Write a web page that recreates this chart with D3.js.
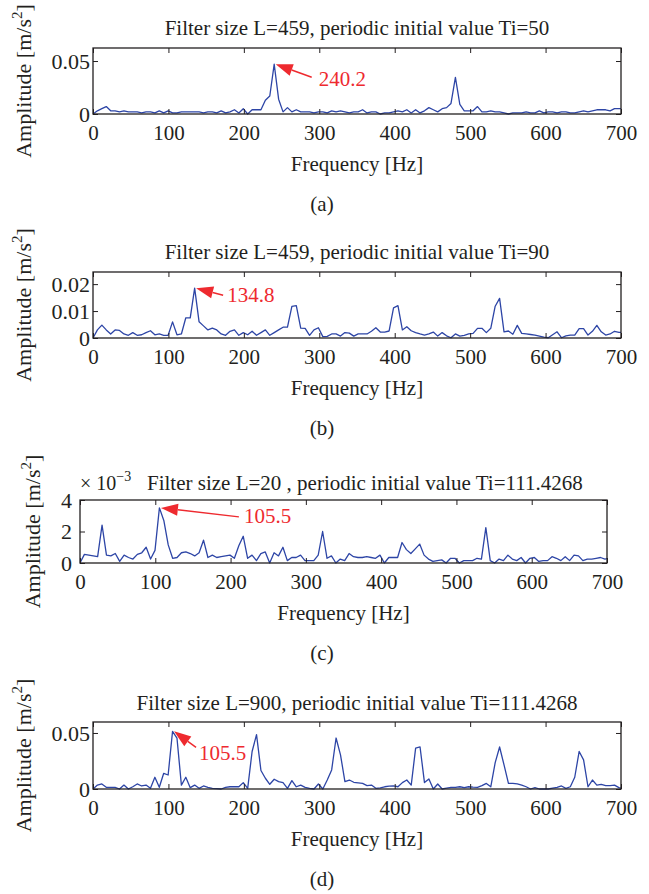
<!DOCTYPE html>
<html><head><meta charset="utf-8">
<script src="https://cdn.jsdelivr.net/npm/d3@7"></script>
<style>
html,body{margin:0;padding:0;background:#fff;}
svg{display:block;font-family:"Liberation Serif","Times New Roman",serif;}
</style></head>
<body><svg id="chart" width="649" height="894"></svg>
<script>
// Frequency grid: FFT bin spacing (12 kHz / 2048 points)
const binWidthHz = 12000 / 2048;

// (a) L=459, Ti=50  — amplitude in m/s^2, one value per bin
const ampA = [0,0.003,0.005,0.007,0.003,0.003,0.002,0.003,0.002,0.002,
  0.002,0.001,0.002,0.002,0.001,0.003,0.001,0.003,0.001,0.001,
  0.002,0.002,0.002,0.002,0.002,0.001,0.002,0.002,0.001,0.003,
  0.001,0.002,0.004,0.001,0.005,0.000,0.004,0.004,0.004,0.013,
  0.017,0.047,0.014,0.002,0.006,0.002,0.004,0.002,0.002,0.002,
  0.001,0.002,0.002,0.001,0.003,0.002,0.003,0.002,0.001,0.002,
  0.002,0.004,0.001,0.002,0.002,0.000,0.001,0.001,0.002,0.003,
  0.002,0.004,0.001,0.004,0.001,0.003,0.006,0.004,0.002,0.005,
  0.006,0.010,0.0345,0.009,0.003,0.003,0.003,0.007,0.002,0.002,
  0.003,0.002,0.002,0.001,0.000,0.001,0.001,0.001,0.002,0.001,
  0.001,0.003,0.001,0.002,0.002,0.001,0.002,0.002,0.001,0.001,
  0.002,0.003,0.002,0.003,0.004,0.004,0.004,0.003,0.005,0.005,0.005];

// (b) L=459, Ti=90
const ampB = [0,0.003,0.0048,0.003,0.0015,0.003,0.0028,0.0015,0.001,0.002,
  0.001,0.0012,0.002,0.0027,0.0012,0.0015,0.001,0.001,0.006,0.0012,
  0.0015,0.0075,0.0075,0.0185,0.006,0.0045,0.003,0.0037,0.003,0.0015,
  0.001,0.0025,0.003,0.001,0.002,0.0012,0.0025,0.001,0.002,0.003,
  0.001,0.002,0.003,0.004,0.004,0.0117,0.012,0.0037,0.0036,0.001,
  0.003,0.0038,0.0005,0.0006,0.0015,0.0015,0.0007,0.002,0.0018,0.0007,
  0.0015,0.0015,0.0015,0.0025,0.0038,0.0022,0.0022,0.0026,0.0112,0.012,
  0.003,0.0042,0.0027,0.002,0.0015,0.0011,0.0015,0.0022,0.0007,0.002,
  0.0008,0.0001,0.0015,0.0007,0.001,0.0015,0.0017,0.0036,0.0036,0.002,
  0.0036,0.0118,0.0147,0.0023,0.0026,0.0014,0.0047,0.0017,0.0015,0.0013,
  0.0011,0.0007,0.0003,0.0001,0.0012,0.0023,0.0001,0.0008,0.0011,0.0011,
  0.0035,0.0035,0.0011,0.0025,0.0047,0.0023,0.0011,0.0015,0.0025,0.0021,0.002];

// (c) L=20, Ti=111.4268 — amplitude in units of 1e-3 m/s^2
const ampC = [0,0.55,0.5,0.45,0.4,2.4,0.5,0.45,0.6,0.1,
  0.5,0.35,0.25,0.55,0.65,1.0,0.25,0.8,3.5,2.7,
  1.15,0.3,0.35,0.65,0.7,0.6,0.45,0.65,1.45,0.35,
  0.5,0.35,0.4,0.45,0.5,0.3,1.1,1.7,0.3,0.5,
  0.15,0.6,0.7,0.0,0.65,0.45,1.0,0.15,0.35,0.35,
  0.5,0.15,0.15,0.15,0.5,2.0,0.3,0.45,0.0,0.25,
  0.15,0.6,0.4,0.35,0.35,0.4,0.35,0.3,0.5,0.0,
  0.35,0.35,0.35,1.3,0.85,0.6,0.9,1.2,0.5,0.25,
  0.1,0.15,0.2,0.0,0.3,0.3,0.0,0.15,0.15,0.15,
  0.3,0.25,2.25,0.15,0.0,0.25,0.15,0.5,0.25,0.15,
  0.35,0.0,0.3,0.35,0.1,0.15,0.15,0.4,0.3,0.15,
  0.4,0.15,0.5,0.45,0.15,0.25,0.25,0.3,0.35,0.25,0.3];

// (d) L=900, Ti=111.4268
const ampD = [0,0.0035,0.0045,0.0015,0.0015,0.0015,0.0,0.0035,0.0,0.002,
  0.0045,0.0027,0.0035,0.0006,0.0105,0.0015,0.014,0.0125,0.0515,0.0455,
  0.0035,0.0105,0.0012,0.0035,0.0006,0.0027,0.0015,0.0006,0.0003,0.0,
  0.0015,0.002,0.002,0.002,0.0057,0.0006,0.0335,0.0485,0.0165,0.0096,
  0.0042,0.0087,0.0066,0.0057,0.0006,0.0075,0.002,0.0035,0.0015,0.0005,
  0.0,0.0045,0.0,0.008,0.017,0.0455,0.0305,0.0066,0.008,0.006,
  0.0055,0.005,0.003,0.0035,0.0006,0.001,0.002,0.0025,0.0027,0.002,
  0.0057,0.008,0.0035,0.0365,0.0375,0.0057,0.009,0.0,0.0045,0.0,
  0.0008,0.0015,0.0015,0.002,0.0012,0.002,0.0017,0.0015,0.003,0.005,
  0.002,0.0235,0.0375,0.0215,0.005,0.005,0.0045,0.0035,0.002,0.0,
  0.0012,0.0,0.0,0.0,0.0008,0.0015,0.0027,0.0006,0.002,0.0105,
  0.0335,0.026,0.002,0.008,0.0035,0.0042,0.003,0.003,0.0035,0.0012,0.0];

const titles = [
  "Filter size L=459, periodic initial value Ti=50",
  "Filter size L=459, periodic initial value Ti=90",
  "Filter size L=20 , periodic initial value Ti=111.4268",
  "Filter size L=900, periodic initial value Ti=111.4268"];
const panelLabels = ["(a)","(b)","(c)","(d)"];
const xTicks = [0,100,200,300,400,500,600,700];
const xTickLabels = ["0","100","200","300","400","500","600","700"];
const yTicks = [[0,0.05],[0,0.01,0.02],[0,2,4],[0,0.05]];
const yTickLabels = [["0","0.05"],["0","0.01","0.02"],["0","2","4"],["0","0.05"]];
const yMax = [0.0623,0.0245,4,0.0598];
const peakBins = [41,23,18,18];
const peakLabels = ["240.2","134.8","105.5","105.5"];
const xLabel = "Frequency [Hz]";

const series = [ampA, ampB, ampC, ampD];

// layout (pixels)
const layout = [
  {l:93,r:621,t:48,b:114,titleX:357,titleY:35,ylabX:31,tail:[36,13],txt:[43,22]},
  {l:93,r:621,t:272,b:338,titleX:357,titleY:259,ylabX:31,tail:[27,7],txt:[31,14]},
  {l:80,r:607,t:500,b:563,titleX:362,titleY:490,ylabX:40,tail:[78,9],txt:[83,15]},
  {l:93,r:621,t:722,b:789,titleX:357,titleY:710,ylabX:31,tail:[22,16],txt:[25,29]}
];

const BLUE = "#2d45a6", RED = "#ee2a2f", INK = "#231f20";
const svg = d3.select("#chart");

series.forEach((vals, p) => {
  const L = layout[p];
  const x = d3.scaleLinear().domain([0,700]).range([L.l, L.r]);
  const y = d3.scaleLinear().domain([0,yMax[p]]).range([L.b, L.t]);
  const g = svg.append("g");
  const clipId = "clip"+p;
  svg.append("clipPath").attr("id",clipId).append("rect")
    .attr("x",L.l).attr("y",L.t-2).attr("width",L.r-L.l).attr("height",L.b-L.t+3);

  // line
  const pts = vals.map((v,i)=>[i*binWidthHz, v]);
  g.append("path").datum(pts)
    .attr("clip-path",`url(#${clipId})`)
    .attr("fill","none").attr("stroke",BLUE).attr("stroke-width",1.3)
    .attr("stroke-linejoin","round")
    .attr("d", d3.line().x(d=>x(d[0])).y(d=>y(d[1])));

  // axes
  const ax = (gen, tx, ty, fs) => {
    const a = g.append("g").attr("transform",`translate(${tx},${ty})`).call(gen);
    a.select(".domain").remove();
    a.selectAll("line").attr("stroke",INK).attr("stroke-width",1);
    a.selectAll("text").attr("fill",INK).style("font-size",fs+"px")
      .style("font-family","Liberation Serif, serif");
    return a;
  };
  ax(d3.axisBottom(x).tickValues(xTicks).tickSize(-5).tickPadding(11)
      .tickFormat((d,i)=>xTickLabels[i]), 0, L.b, 21);
  ax(d3.axisTop(x).tickValues(xTicks).tickSize(-5).tickFormat(""), 0, L.t, 21);
  ax(d3.axisLeft(y).tickValues(yTicks[p]).tickSize(-5).tickPadding(p===2?8:3)
      .tickFormat((d,i)=>yTickLabels[p][i]), L.l, 0, 22);
  ax(d3.axisRight(y).tickValues(yTicks[p]).tickSize(-5).tickFormat(""), L.r, 0, 21);

  // box
  g.append("rect").attr("x",L.l).attr("y",L.t).attr("width",L.r-L.l).attr("height",L.b-L.t)
    .attr("fill","none").attr("stroke",INK).attr("stroke-width",1.3);

  // title
  if (p === 2) {
    const ex = g.append("text").attr("x",L.l).attr("y",L.titleY)
      .attr("fill",INK).style("font-size","20px");
    ex.append("tspan").text("× 10");
    ex.append("tspan").attr("dy",-9).style("font-size","14px").text("−3");
    g.append("text").attr("x",147).attr("y",L.titleY).attr("fill",INK)
      .style("font-size","21px").text(titles[p]);
  } else {
    g.append("text").attr("x",L.titleX).attr("y",L.titleY).attr("text-anchor","middle")
      .attr("fill",INK).style("font-size","21px").text(titles[p]);
  }

  // x label & panel label
  g.append("text").attr("x",(L.l+L.r)/2).attr("y",L.b+57).attr("text-anchor","middle")
    .attr("fill",INK).style("font-size","21px").text(xLabel);
  g.append("text").attr("x",322).attr("y",L.b+97).attr("text-anchor","middle")
    .attr("fill",INK).style("font-size","21px").text(panelLabels[p]);

  // y label
  const yl = g.append("text")
    .attr("transform",`translate(${L.ylabX},${(L.t+L.b)/2}) rotate(-90)`)
    .attr("text-anchor","middle").attr("fill",INK).style("font-size","22px");
  yl.append("tspan").text("Amplitude [m/s");
  yl.append("tspan").attr("dy",-9).style("font-size","15px").text("2");
  yl.append("tspan").attr("dy",9).text("]");

  // annotation arrow
  const bi = peakBins[p];
  const tx = x(bi*binWidthHz) + 1.5, ty = y(vals[bi]);
  const ex = tx + L.tail[0], ey = ty + L.tail[1];
  const ang = Math.atan2(ey-ty, ex-tx);
  const hl = 17, hw = 6;
  const bx = tx + hl*Math.cos(ang), by = ty + hl*Math.sin(ang);
  const nx = -Math.sin(ang), ny = Math.cos(ang);
  g.append("line").attr("x1",bx).attr("y1",by).attr("x2",ex).attr("y2",ey)
    .attr("stroke",RED).attr("stroke-width",1.5);
  g.append("path")
    .attr("d",`M${tx},${ty}L${bx+hw*nx},${by+hw*ny}L${bx-hw*nx},${by-hw*ny}Z`)
    .attr("fill",RED);
  g.append("text").attr("x",tx+L.txt[0]).attr("y",ty+L.txt[1]).attr("fill",RED)
    .style("font-size","21px").text(peakLabels[p]);
});
</script></body></html>
